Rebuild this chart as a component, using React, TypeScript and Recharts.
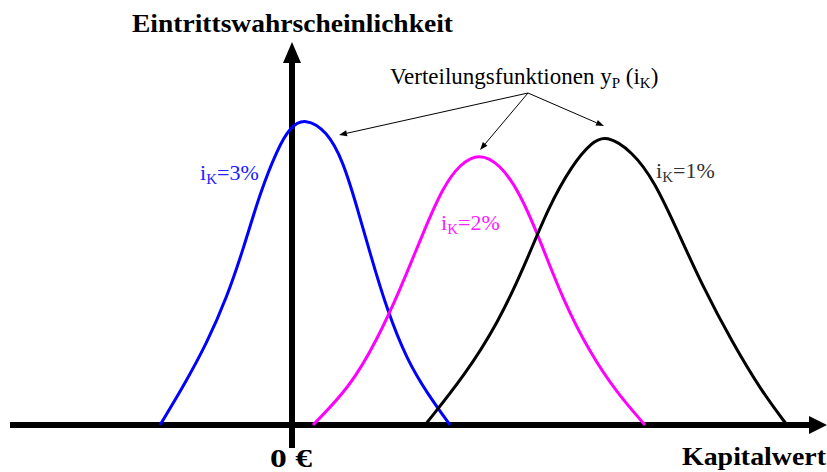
import React from 'react';
import { LineChart, Line, XAxis, YAxis, ReferenceLine } from 'recharts';

// Kapitalwert (0 € at the vertical axis) and Eintrittswahrscheinlichkeit
const blueX = [-132, -109, -85, -65, -49, -32, -15, -2, 13, 35, 51, 65, 78, 95, 115, 135, 158];
const blueY = [0, 38, 82, 128, 175, 232, 275, 298, 307, 294, 264, 218, 172, 115, 65, 32, 0];

const magentaX = [21, 58, 85, 108, 131, 151, 168, 187, 208, 228, 248, 271, 298, 325, 353];
const magentaY = [0, 38, 85, 135, 192, 238, 261, 272, 261, 232, 185, 125, 72, 32, 0];

const blackX = [133, 173, 206, 233, 256, 280, 300, 314, 340, 363, 386, 410, 440, 470, 495];
const blackY = [0, 50, 102, 160, 217, 260, 283, 290, 274, 243, 193, 140, 83, 33, 0];

const toRows = (xs: number[], ys: number[]) => xs.map((x, i) => ({ x, y: ys[i] }));

const serif = '"Liberation Serif", "DejaVu Serif", serif';

// line with a filled arrow head at (x2, y2)
const arrow = (head: number, half: number, color: string, width: number) => (p: any) => {
  const { x1, y1, x2, y2 } = p;
  const dx = x2 - x1;
  const dy = y2 - y1;
  const len = Math.hypot(dx, dy) || 1;
  const ux = dx / len;
  const uy = dy / len;
  const bx = x2 - ux * head;
  const by = y2 - uy * head;
  return (
    <g>
      <line x1={x1} y1={y1} x2={bx} y2={by} stroke={color} strokeWidth={width} />
      <polygon
        points={`${x2},${y2} ${bx - uy * half},${by + ux * half} ${bx + uy * half},${by - ux * half}`}
        fill={color}
      />
    </g>
  );
};

const IkLabel = ({ x, y, value, color }: { x: number; y: number; value: string; color: string }) => (
  <text x={x} y={y} fontFamily={serif} fontSize={22} fill={color}>
    i
    <tspan fontSize={15} dy={4}>K</tspan>
    <tspan dy={-4}>={value}</tspan>
  </text>
);

export default function App() {
  return (
    <div style={{ position: 'absolute', left: 0, top: 0, background: '#fff' }}>
      <LineChart width={827} height={472} margin={{ top: 0, right: 0, bottom: 0, left: 0 }}>
        <XAxis dataKey="x" type="number" domain={[-292, 535]} allowDataOverflow hide />
        <YAxis type="number" domain={[-47, 425]} allowDataOverflow hide />

        {/* axes */}
        <ReferenceLine
          segment={[{ x: -282, y: 0 }, { x: 535, y: 0 }]}
          ifOverflow="visible"
          shape={arrow(18, 9, '#000', 6)}
        />
        <ReferenceLine
          segment={[{ x: 0, y: -23 }, { x: 0, y: 383 }]}
          ifOverflow="visible"
          shape={arrow(21, 9, '#000', 6)}
        />

        <Line data={toRows(blueX, blueY)} dataKey="y" type="basis" stroke="#0000ff" strokeWidth={3} dot={false} activeDot={false} isAnimationActive={false} />
        <Line data={toRows(magentaX, magentaY)} dataKey="y" type="basis" stroke="#ff00ff" strokeWidth={3} dot={false} activeDot={false} isAnimationActive={false} />
        <Line data={toRows(blackX, blackY)} dataKey="y" type="basis" stroke="#000" strokeWidth={3} dot={false} activeDot={false} isAnimationActive={false} />

        {/* annotation arrows */}
        <ReferenceLine segment={[{ x: 236, y: 332 }, { x: 47, y: 290 }]} ifOverflow="visible" shape={arrow(8, 3, '#000', 1)} />
        <ReferenceLine segment={[{ x: 236, y: 332 }, { x: 188, y: 275 }]} ifOverflow="visible" shape={arrow(8, 3, '#000', 1)} />
        <ReferenceLine segment={[{ x: 236, y: 332 }, { x: 312, y: 299 }]} ifOverflow="visible" shape={arrow(8, 3, '#000', 1)} />

        <text x={132} y={32} fontFamily={serif} fontWeight="bold" fontSize={25} textLength={321} lengthAdjust="spacingAndGlyphs">
          Eintrittswahrscheinlichkeit
        </text>
        <text x={390} y={84} fontFamily={serif} fontSize={23}>
          Verteilungsfunktionen y
          <tspan fontSize={15} dy={4}>P</tspan>
          <tspan dy={-4}> (i</tspan>
          <tspan fontSize={15} dy={4}>K</tspan>
          <tspan dy={-4}>)</tspan>
        </text>
        <IkLabel x={200} y={180} value="3%" color="#2020ff" />
        <IkLabel x={441} y={230} value="2%" color="#ff20ff" />
        <IkLabel x={656} y={178} value="1%" color="#333" />
        <text x={270} y={467} fontFamily={serif} fontWeight="bold" fontSize={26} textLength={42} lengthAdjust="spacingAndGlyphs">
          0 €
        </text>
        <text x={682} y={465} fontFamily={serif} fontWeight="bold" fontSize={25} textLength={144} lengthAdjust="spacingAndGlyphs">
          Kapitalwert
        </text>
      </LineChart>
    </div>
  );
}
